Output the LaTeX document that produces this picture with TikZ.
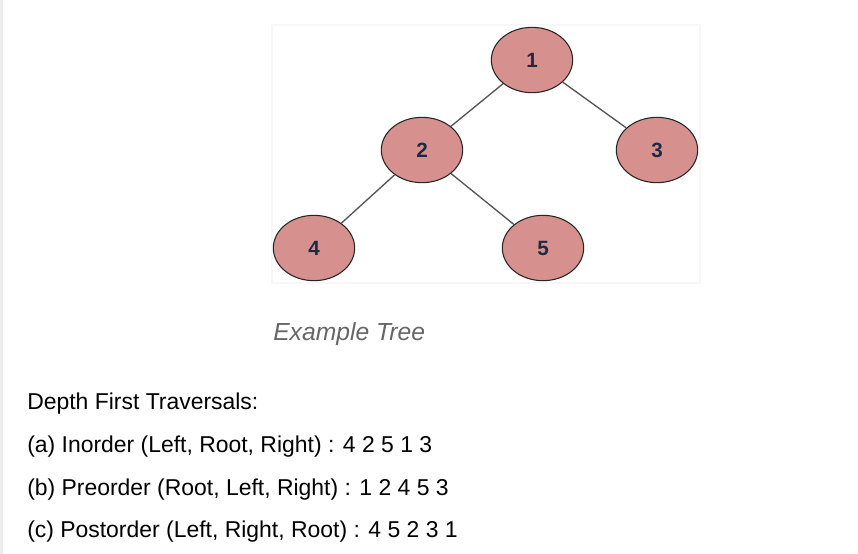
\documentclass[tikz,border=0pt]{standalone}
\usepackage{fontspec}
\setmainfont{Liberation Sans}
\usetikzlibrary{shapes.geometric}
\definecolor{nodepink}{HTML}{D6918E}
\definecolor{numblue}{HTML}{1E2A45}
\definecolor{edgegray}{HTML}{555555}
\definecolor{captiongray}{HTML}{666666}
\begin{document}
\begin{tikzpicture}[x=0.75pt,y=-0.75pt,
                treenode/.style={ellipse, draw=black!85, line width=0.8pt, fill=nodepink,
                    minimum width=61pt, minimum height=49pt, inner sep=0pt,
                    text=numblue, font=\fontsize{15.5}{17}\selectfont\bfseries},
                textline/.style={anchor=base west, inner sep=0pt, font=\fontsize{17.2}{20}\selectfont}]
                \useasboundingbox[fill=white] (0,0) rectangle (858,554);
                \fill[black!7] (0,0) rectangle (3,554); %page edge
                \draw[black!3, line width=2pt, fill=white] (272,25) rectangle (700,283);
                \foreach \n/\x/\y in {1/532/60, 2/422/150, 3/657/150, 4/314/248, 5/543/248}{
                \node[treenode] (n\n) at (\x,\y) {\n};
                }
                \foreach \a/\b in {1/2, 1/3, 2/4, 2/5}{
                \draw[edgegray, line width=1pt] (n\a) -- (n\b);
                }
                \node[textline, text=captiongray, font=\fontsize{18.5}{21}\selectfont\itshape] (caption) at (273,340) {Example Tree};
                \node[textline] (head) at (27,409) {Depth First Traversals:};
                \node[textline] (inorder) at (27,452) {(a) Inorder (Left, Root, Right) : 4 2 5 1 3};
                \node[textline] (preorder) at (27,495) {(b) Preorder (Root, Left, Right) : 1 2 4 5 3};
                \node[textline] (postorder) at (27,537) {(c) Postorder (Left, Right, Root) : 4 5 2 3 1};
\end{tikzpicture}
\end{document}
